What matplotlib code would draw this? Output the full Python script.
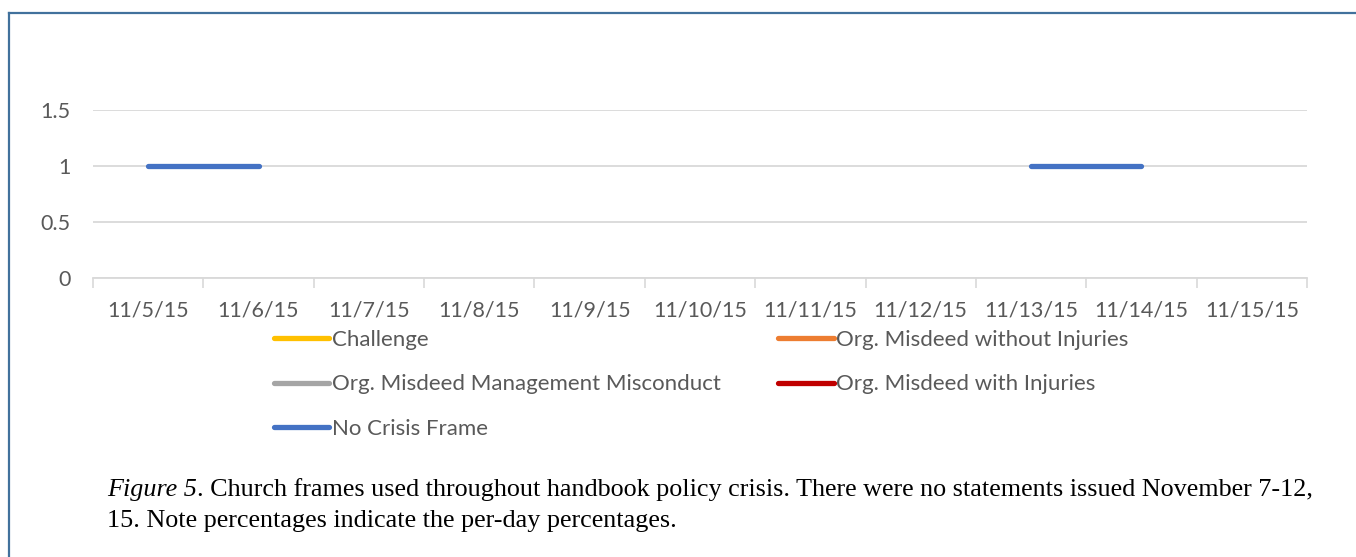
#plot.py
#
#Church frames per day during the handbook policy crisis (line chart, Excel look)
#
import matplotlib.pyplot as plt
from matplotlib.lines import Line2D
from matplotlib.transforms import offset_copy
import numpy as np

dates = ['11/5/15', '11/6/15', '11/7/15', '11/8/15', '11/9/15', '11/10/15',
         '11/11/15', '11/12/15', '11/13/15', '11/14/15', '11/15/15']
nan = np.nan
challenge = [nan] * 11
misdeed_no_inj = [nan] * 11
misdeed_mgmt = [nan] * 11
misdeed_inj = [nan] * 11
no_crisis = [1, 1, nan, nan, nan, nan, nan, nan, 1, 1, nan]

series = [('Challenge', challenge, '#FFC000'),
          ('Org. Misdeed without Injuries', misdeed_no_inj, '#ED7D31'),
          ('Org. Misdeed Management Misconduct', misdeed_mgmt, '#A5A5A5'),
          ('Org. Misdeed with Injuries', misdeed_inj, '#C00000'),
          ('No Crisis Frame', no_crisis, '#4472C4')]

txt = '#595959'
grid = '#D9D9D9'
plt.rcParams['font.family'] = ['Lato', 'DejaVu Sans']

fig = plt.figure(figsize=(13.56, 5.57), dpi=100)
ax = fig.add_axes([93/1356, 1 - 278/557, (1307-93)/1356, (278-110)/557])

x = np.arange(len(dates))
handles = {}
for name, vals, col in series:
    h, = ax.plot(x, vals, color=col, lw=3.8, solid_capstyle='round', label=name)
    handles[name] = h

ax.set_xlim(-0.5, len(dates) - 0.5)
ax.set_ylim(0, 1.5)
ax.set_yticks([0, 0.5, 1, 1.5])
ax.set_yticklabels(['0', '0.5', '1', '1.5'])
ax.set_xticks(x)
ax.set_xticklabels(dates)
ax.set_xticks(np.arange(-0.5, len(dates)), minor=True)
ax.tick_params(axis='x', which='major', length=0, pad=16, labelsize=15.5, labelcolor=txt)
ax.tick_params(axis='x', which='minor', length=7, width=1.2, color=grid)
ax.tick_params(axis='y', length=0, pad=16, labelsize=15.5, labelcolor=txt)
ax.grid(axis='y', color=grid, lw=1.3)
ax.set_axisbelow(True)
for s in ['top', 'right', 'left']:
    ax.spines[s].set_visible(False)
ax.spines['bottom'].set_color(grid)
ax.spines['bottom'].set_linewidth(1.3)

order = ['Challenge', 'Org. Misdeed Management Misconduct', 'No Crisis Frame',
         'Org. Misdeed without Injuries', 'Org. Misdeed with Injuries']
leg = fig.legend([handles[n] for n in order], order, ncol=2, frameon=False,
                 loc='upper left', bbox_to_anchor=(265/1356, 1 - 321/557),
                 fontsize=16, handlelength=2.5, handletextpad=0.1,
                 columnspacing=2.6, labelspacing=1.1, borderaxespad=0)
for t in leg.get_texts():
    t.set_color(txt)

# caption below the chart
cap = fig.text(107/1356, 1 - 490/557, 'Figure 5', fontsize=18.8, style='italic',
               family='Liberation Serif', va='center')
fig.canvas.draw()
w = cap.get_window_extent().width
fig.text(107/1356, 1 - 490/557,
         '. Church frames used throughout handbook policy crisis. '
         'There were no statements issued November 7-12,',
         fontsize=18.8, family='Liberation Serif', va='center',
         transform=offset_copy(fig.transFigure, fig=fig, x=w, y=0, units='dots'))
fig.text(107/1356, 1 - 521/557,
         '15. Note percentages indicate the per-day percentages.',
         fontsize=18.8, family='Liberation Serif', va='center')

# frame around the figure (left and top edges)
fig.add_artist(Line2D([9/1356, 9/1356], [0, 1 - 13/557], color='#41719C', lw=1.6))
fig.add_artist(Line2D([9/1356, 1], [1 - 13/557, 1 - 13/557], color='#41719C', lw=1.6))

fig.savefig('out.png', dpi=100)
